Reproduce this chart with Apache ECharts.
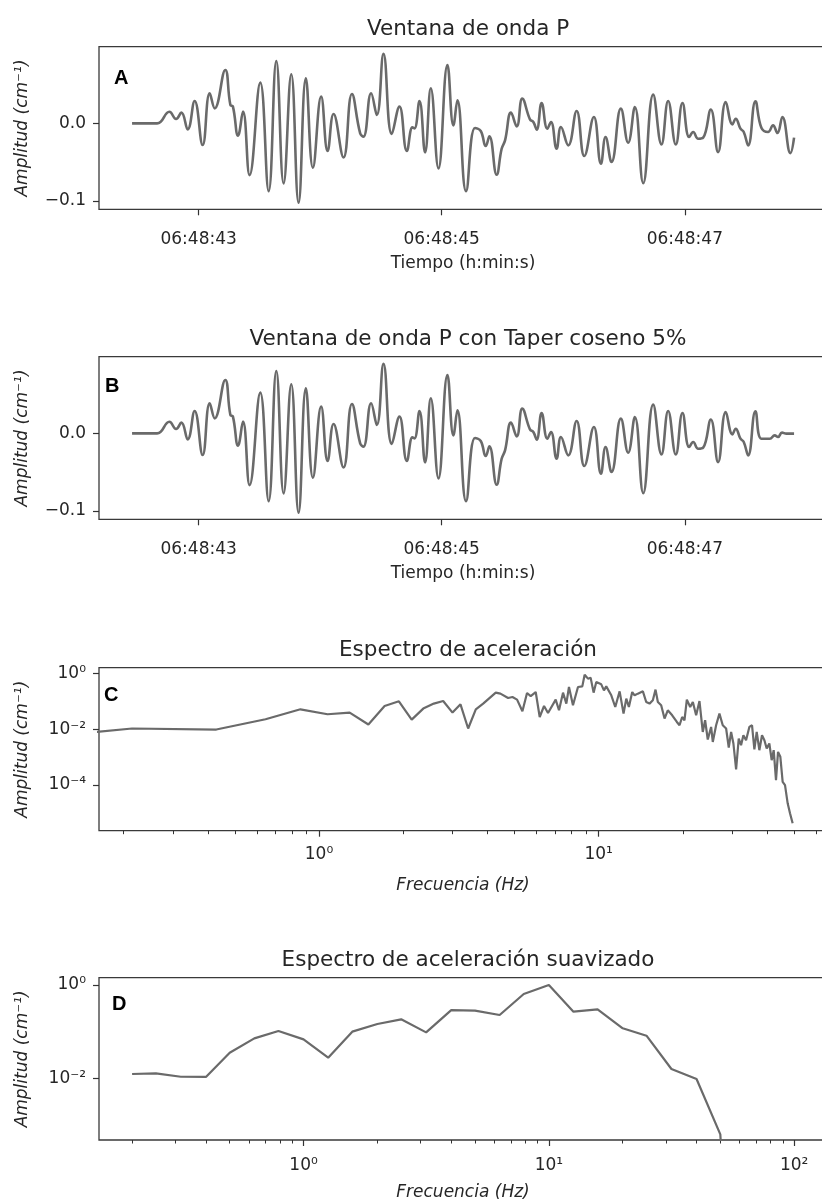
<!DOCTYPE html>
<html><head><meta charset="utf-8">
<script src="https://cdn.jsdelivr.net/npm/echarts@6/dist/echarts.min.js"></script>
<style>html,body{margin:0;padding:0;background:#fff}#c{width:822px;height:1202px}</style>
</head><body><div id="c"></div>
<script>
// ---- Data ----
const tiempoA = [42.452,42.658,42.759,42.814,42.858,42.910,42.967,43.033,43.091,43.132,43.219,43.261,43.282,43.324,43.365,43.419,43.507,43.576,43.639,43.699,43.762,43.822,43.882,43.940,44.008,44.061,44.110,44.192,44.261,44.329,44.356,44.419,44.466,44.521,44.589,44.652,44.713,44.759,44.776,44.817,44.863,44.910,44.973,45.047,45.096,45.129,45.200,45.274,45.321,45.362,45.392,45.452,45.493,45.521,45.570,45.617,45.663,45.726,45.754,45.781,45.822,45.869,45.899,45.945,45.981,46.041,46.110,46.173,46.252,46.310,46.348,46.397,46.474,46.534,46.589,46.658,46.740,46.808,46.863,46.926,46.981,47.036,47.069,47.110,47.151,47.214,47.274,47.337,47.392,47.419,47.458,47.485,47.521,47.581,47.630,47.685,47.726,47.762,47.803,47.869,47.899];
const ampA = [0,0,0.0150,0.0056,0.0138,-0.0078,0.0289,-0.0280,0.0388,0.0194,0.0690,0.0237,0.0216,-0.0159,0.0151,-0.0668,0.0526,-0.0875,0.0806,-0.0776,0.0634,-0.1026,0.0582,-0.0573,0.0345,-0.0358,0.0121,-0.0440,0.0379,-0.0129,-0.0172,0.0388,0.0108,0.0897,-0.0138,0.0216,-0.0358,-0.0052,-0.0065,0.0289,-0.0375,0.0453,-0.0582,0.0754,-0.0026,0.0297,-0.0875,-0.0060,-0.0099,-0.0293,-0.0168,-0.0664,-0.0328,-0.0220,0.0138,-0.0039,0.0319,0.0052,0.0017,-0.0082,0.0263,-0.0069,0.0017,-0.0328,-0.0047,-0.0284,0.0159,-0.0422,0.0082,-0.0522,-0.0177,-0.0500,0.0190,-0.0250,0.0211,-0.0772,0.0371,-0.0272,0.0289,-0.0272,0.0263,-0.0177,-0.0112,-0.0198,-0.0185,0.0177,-0.0371,0.0276,-0.0013,0.0060,-0.0069,-0.0112,-0.0284,0.0284,-0.0056,-0.0112,-0.0026,-0.0125,0.0082,-0.0384,-0.0185];

const tiempoB = [42.452,42.658,42.759,42.814,42.858,42.910,42.967,43.033,43.091,43.132,43.219,43.261,43.282,43.324,43.365,43.419,43.507,43.576,43.639,43.699,43.762,43.822,43.882,43.940,44.008,44.061,44.110,44.192,44.261,44.329,44.356,44.419,44.466,44.521,44.589,44.652,44.713,44.759,44.776,44.817,44.863,44.910,44.973,45.047,45.096,45.129,45.200,45.274,45.321,45.362,45.392,45.452,45.493,45.521,45.570,45.617,45.663,45.726,45.754,45.781,45.822,45.869,45.899,45.945,45.981,46.041,46.110,46.173,46.252,46.310,46.348,46.397,46.474,46.534,46.589,46.658,46.740,46.808,46.863,46.926,46.981,47.036,47.069,47.110,47.151,47.214,47.274,47.337,47.392,47.419,47.458,47.485,47.521,47.581,47.630,47.699,47.740,47.767,47.800,47.836,47.899];
const ampB = [0,0,0.0150,0.0056,0.0138,-0.0078,0.0289,-0.0280,0.0388,0.0194,0.0690,0.0237,0.0216,-0.0159,0.0151,-0.0668,0.0526,-0.0875,0.0806,-0.0776,0.0634,-0.1026,0.0582,-0.0573,0.0345,-0.0358,0.0121,-0.0440,0.0379,-0.0129,-0.0172,0.0388,0.0108,0.0897,-0.0138,0.0216,-0.0358,-0.0052,-0.0065,0.0289,-0.0375,0.0453,-0.0582,0.0754,-0.0026,0.0297,-0.0875,-0.0060,-0.0099,-0.0293,-0.0168,-0.0664,-0.0328,-0.0220,0.0138,-0.0039,0.0319,0.0052,0.0017,-0.0082,0.0263,-0.0069,0.0017,-0.0328,-0.0047,-0.0284,0.0159,-0.0422,0.0082,-0.0522,-0.0177,-0.0500,0.0190,-0.0250,0.0211,-0.0772,0.0371,-0.0272,0.0289,-0.0272,0.0263,-0.0177,-0.0112,-0.0198,-0.0185,0.0177,-0.0371,0.0276,-0.0013,0.0060,-0.0069,-0.0112,-0.0284,0.0284,-0.0069,-0.0069,-0.0026,-0.0047,0.0009,-0.0004,-0.0004];

const freqC = [0.1,0.2145,0.429,0.6435,0.858,1.0725,1.287,1.5015,1.716,1.9305,2.145,2.3595,2.574,2.780,3.002,3.206,3.415,3.637,3.864,4.286,4.454,4.746,4.918,5.109,5.339,5.546,5.716,5.957,6.156,6.380,6.592,7.022,7.217,7.459,7.666,7.834,8.097,8.438,8.744,8.913,9.161,9.363,9.596,9.811,10.22,10.45,10.65,11.10,11.47,11.89,12.28,12.56,12.83,13.19,13.45,13.82,14.40,14.80,15.21,15.63,15.98,16.29,16.74,17.21,17.68,18.33,19.05,19.47,19.90,20.28,20.68,21.26,21.73,22.33,22.95,23.58,24.04,24.57,25.26,25.61,26.32,27.05,27.80,28.58,29.21,29.78,30.35,31.03,31.71,32.32,32.95,33.68,34.61,35.38,36.07,36.77,37.58,38.41,39.17,39.92,40.80,41.59,42.29,43.10,43.83,44.67,45.53,46.42,47.45,48.37,49.43];
const ampC = [0.00505,0.0107,0.00984,0.0230,0.0525,0.0348,0.0400,0.0149,0.0690,0.1016,0.0224,0.0557,0.0841,0.1042,0.0400,0.0794,0.0107,0.0525,0.0841,0.2084,0.1919,0.1334,0.1449,0.1169,0.0446,0.2018,0.1574,0.2193,0.0278,0.0690,0.0387,0.1169,0.0484,0.2084,0.0841,0.3311,0.0731,0.3311,0.3508,0.9204,0.6622,0.7194,0.2084,0.5000,0.4130,0.2518,0.3508,0.1667,0.0635,0.2323,0.0368,0.1271,0.0635,0.2193,0.1667,0.1919,0.2323,0.0959,0.0841,0.1104,0.2673,0.0959,0.0731,0.0244,0.0484,0.0320,0.0184,0.0140,0.0278,0.0212,0.1169,0.0635,0.0959,0.0320,0.1042,0.00807,0.0212,0.00431,0.0122,0.00353,0.0140,0.0368,0.0140,0.0107,0.00223,0.00807,0.00310,0.000362,0.00468,0.00269,0.00615,0.00406,0.0122,0.0140,0.00189,0.00807,0.00178,0.00615,0.00406,0.00205,0.00310,0.000780,0.00178,0.000150,0.00155,0.00103,0.000130,0.0000991,0.0000219,0.00000959,0.00000421];

const freqD = [0.2,0.25,0.316,0.4,0.5,0.63,0.79,1.0,1.26,1.58,2.0,2.5,3.16,4.0,5.0,6.3,7.9,10,12.6,15.8,20,25,31.6,40,50,63];
const ampD = [0.0126,0.0130,0.0110,0.0109,0.0359,0.0726,0.1042,0.0692,0.0281,0.101,0.147,0.185,0.0975,0.292,0.283,0.229,0.643,1.0,0.270,0.302,0.119,0.0828,0.0161,0.00984,0.00065,1e-12];

const titulos = ['Ventana de onda P','Ventana de onda P con Taper coseno 5%','Espectro de aceleración','Espectro de aceleración suavizado'];
const letras = ['A','B','C','D'];
const tiempoTicks = [43,45,47];
const ampTicks = [-0.1,0];
const freqTicksC = [1,10];
const freqTicksD = [1,10,100];
const espTicksC = [1e-4,1e-2,1];
const espTicksD = [1e-2,1];
const nombreX1 = 'Tiempo (h:min:s)';
const nombreX2 = 'Frecuencia (Hz)';
const nombreY = 'Amplitud (cm⁻¹)';

// ---- Helpers ----
const SUP = {'0':'⁰','1':'¹','2':'²','3':'³','4':'⁴','5':'⁵','6':'⁶','7':'⁷','8':'⁸','9':'⁹','-':'⁻'};
function pot(v){ const e = Math.round(Math.log10(v)); return '10' + String(e).split('').map(c=>SUP[c]).join(''); }
function minors(lo, hi){ const r=[]; for(let n=-2;n<=3;n++){ for(let k=2;k<=9;k++){ const v=k*Math.pow(10,n); if(v>lo && v<hi) r.push(v);} } return r; }
const zip = (a,b)=>a.map((x,i)=>[x,b[i]]);

const FONT = 'DejaVu Sans';
const TXT = '#262626';
const LINE = '#6a6a6a';
const grids = [
  {left:99, top:46.7, width:728, height:162.6},
  {left:99, top:356.7, width:728, height:162.6},
  {left:99, top:667.7, width:728, height:163},
  {left:99, top:977.7, width:728, height:162.3}
].map(g=>Object.assign(g,{show:true,borderColor:'#3a3a3a',borderWidth:1.3,backgroundColor:'transparent',
  containLabel:false,outerBoundsMode:'none'}));

const TICK = {show:true,length:6,lineStyle:{color:'#333',width:1.2}};
function baseAxis(extra){
  return Object.assign({
    axisLine:{show:false,onZero:false},
    splitLine:{show:false},
    minorTick:{show:false},
    axisLabel:{color:TXT,fontSize:17,fontFamily:FONT,margin:12},
    nameTextStyle:{color:TXT,fontSize:17,fontFamily:FONT},
    nameLocation:'middle'
  }, extra);
}
const XL = [42.18, 48.17];
const YL = [-0.111, 0.099];
const fmtT = v=>'06:48:'+String(Math.round(v)).padStart(2,'0');
const xAxes = [
  baseAxis({type:'value',gridIndex:0,position:'bottom',min:XL[0],max:XL[1],name:nombreX1,nameGap:46,
    axisTick:Object.assign({customValues:tiempoTicks},TICK),
    axisLabel:{color:TXT,fontSize:17,fontFamily:FONT,margin:22,customValues:tiempoTicks,formatter:fmtT}}),
  baseAxis({type:'value',gridIndex:1,position:'bottom',min:XL[0],max:XL[1],name:nombreX1,nameGap:46,
    axisTick:Object.assign({customValues:tiempoTicks},TICK),
    axisLabel:{color:TXT,fontSize:17,fontFamily:FONT,margin:22,customValues:tiempoTicks,formatter:fmtT}}),
  baseAxis({type:'log',logBase:10,gridIndex:2,position:'bottom',min:0.1633,max:65.6,name:nombreX2,nameGap:46,
    nameTextStyle:{color:TXT,fontSize:17,fontFamily:FONT,fontStyle:'italic'},
    axisTick:Object.assign({customValues:freqTicksC},TICK),
    axisLabel:{color:TXT,fontSize:17,fontFamily:FONT,margin:15,customValues:freqTicksC,formatter:pot}}),
  baseAxis({type:'log',logBase:10,gridIndex:3,position:'bottom',min:0.1466,max:136.1,name:nombreX2,nameGap:44,
    nameTextStyle:{color:TXT,fontSize:17,fontFamily:FONT,fontStyle:'italic'},
    axisTick:Object.assign({customValues:freqTicksD},TICK),
    axisLabel:{color:TXT,fontSize:17,fontFamily:FONT,margin:17,customValues:freqTicksD,formatter:pot}}),
  baseAxis({type:'log',logBase:10,gridIndex:2,position:'bottom',offset:0,min:0.1633,max:65.6,
    axisTick:{show:true,length:3.5,lineStyle:{color:'#333',width:1},customValues:minors(0.1633,65.6)},
    axisLabel:{show:false}}),
  baseAxis({type:'log',logBase:10,gridIndex:3,position:'bottom',offset:0,min:0.1466,max:136.1,
    axisTick:{show:true,length:3.5,lineStyle:{color:'#333',width:1},customValues:minors(0.1466,136.1)},
    axisLabel:{show:false}})
];
const yName = {name:nombreY,nameGap:68,nameTextStyle:{color:TXT,fontSize:17,fontFamily:FONT,fontStyle:'italic'}};
const fmtA = v=>(v<0?'−':'')+Math.abs(v).toFixed(1);
const yAxes = [
  baseAxis(Object.assign({type:'value',gridIndex:0,position:'left',min:YL[0],max:YL[1],
    axisTick:Object.assign({customValues:ampTicks},TICK),
    axisLabel:{color:TXT,fontSize:17,fontFamily:FONT,margin:13,customValues:ampTicks,formatter:fmtA}},yName)),
  baseAxis(Object.assign({type:'value',gridIndex:1,position:'left',min:YL[0],max:YL[1],
    axisTick:Object.assign({customValues:ampTicks},TICK),
    axisLabel:{color:TXT,fontSize:17,fontFamily:FONT,margin:13,customValues:ampTicks,formatter:fmtA}},yName)),
  baseAxis(Object.assign({type:'log',logBase:10,gridIndex:2,position:'left',min:2.28e-6,max:1.64,
    axisTick:Object.assign({customValues:espTicksC},TICK),
    axisLabel:{color:TXT,fontSize:17,fontFamily:FONT,margin:13,customValues:espTicksC,formatter:pot}},yName)),
  baseAxis(Object.assign({type:'log',logBase:10,gridIndex:3,position:'left',min:0.000492,max:1.432,
    axisTick:Object.assign({customValues:espTicksD},TICK),
    axisLabel:{color:TXT,fontSize:17,fontFamily:FONT,margin:13,customValues:espTicksD,formatter:pot}},yName))
];

const serie = (i,data,smooth,w)=>({type:'line',xAxisIndex:i,yAxisIndex:i,data:data,showSymbol:false,symbol:'none',
  smooth:smooth,lineStyle:{color:LINE,width:w},clip:true,silent:true});

const centro = 99 + 728/2;
const titles = titulos.map((t,i)=>({text:t,left:centro,top:grids[i].top-33,textAlign:'center',
  textStyle:{color:TXT,fontSize:21.5,fontWeight:'normal',fontFamily:FONT}}));
const letraPos = [[114,68],[105,376],[104,685.5],[112,994]];
const graphics = letras.map((l,i)=>({type:'text',left:letraPos[i][0],top:letraPos[i][1],z:10,
  style:{text:l,fill:'#000',font:'bold 20px "Liberation Sans", Arial, sans-serif'}}));

const chart = echarts.init(document.getElementById('c'),null,{renderer:'canvas'});
chart.setOption({
  animation:false,
  backgroundColor:'#fff',
  title:titles,
  grid:grids,
  xAxis:xAxes,
  yAxis:yAxes,
  graphic:graphics,
  series:[
    serie(0,zip(tiempoA,ampA),0.45,2.6),
    serie(1,zip(tiempoB,ampB),0.45,2.6),
    serie(2,zip(freqC,ampC),false,2.2),
    serie(3,zip(freqD,ampD),false,2.2)
  ]
});
</script></body></html>
